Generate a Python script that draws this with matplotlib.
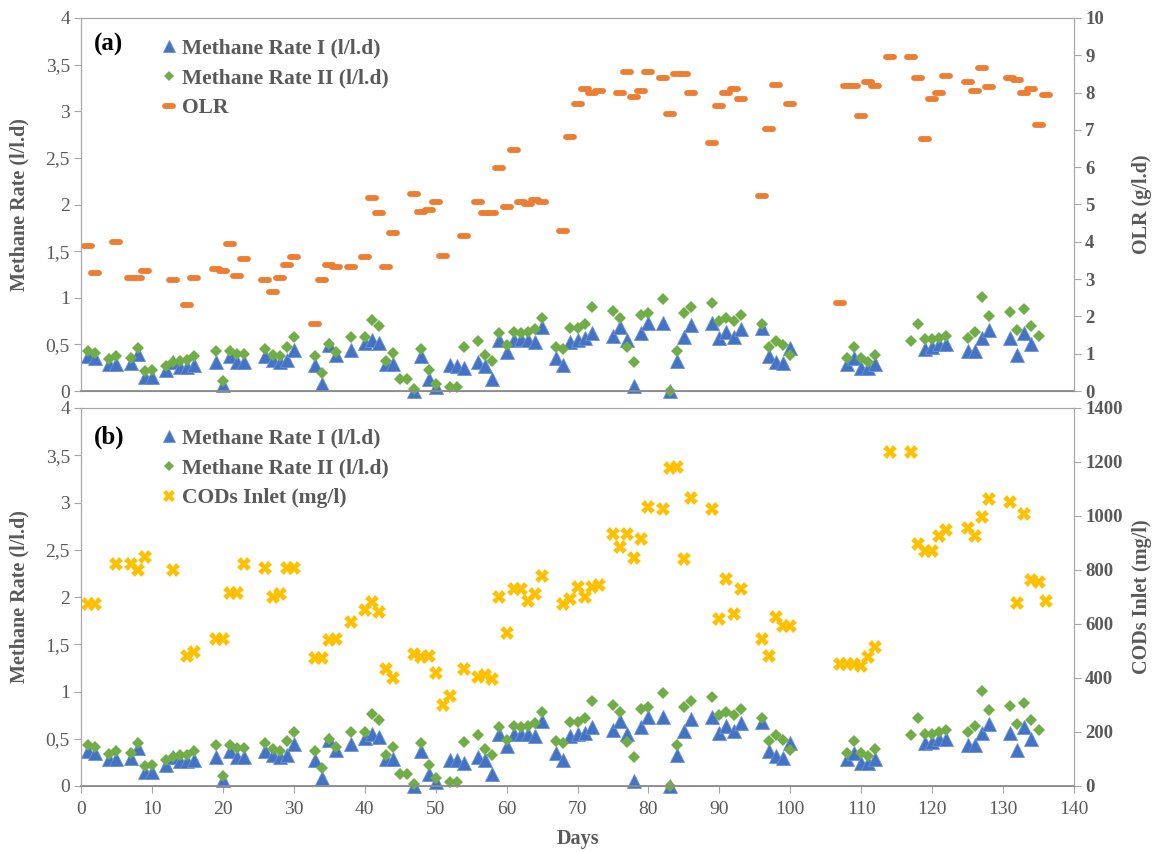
import matplotlib
matplotlib.use('Agg')
import numpy as np
import matplotlib.pyplot as plt
from matplotlib.markers import MarkerStyle

plt.rcParams['font.family'] = ['Liberation Serif', 'DejaVu Serif']

# Methane rate, reactor I (l/l.d)
m1_days = [1, 2, 4, 5, 7, 8, 9, 10, 12, 13, 14, 15, 16, 19, 20, 21, 22, 23, 26, 27, 28, 29, 30,
           33, 34, 35, 36, 38, 40, 41, 42, 43, 44, 47, 48, 49, 50, 52, 53, 54, 56, 57, 58, 59, 60,
           61, 62, 63, 64, 65, 67, 68, 69, 70, 71, 72, 75, 76, 77, 78, 79, 80, 82, 83, 84, 85, 86,
           89, 90, 91, 92, 93, 96, 97, 98, 99, 100, 108, 109, 110, 111, 112, 119, 120, 121, 122,
           125, 126, 127, 128, 131, 132, 133, 134]
m1 = [0.37, 0.35, 0.29, 0.29, 0.30, 0.40, 0.15, 0.15, 0.225, 0.31, 0.26, 0.26, 0.28, 0.31, 0.065,
      0.37, 0.31, 0.31, 0.37, 0.33, 0.31, 0.33, 0.44, 0.28, 0.08, 0.49, 0.385, 0.44, 0.51, 0.55,
      0.52, 0.29, 0.29, 0.0, 0.37, 0.125, 0.045, 0.28, 0.27, 0.245, 0.31, 0.27, 0.125, 0.55, 0.42,
      0.55, 0.555, 0.55, 0.53, 0.69, 0.35, 0.28, 0.53, 0.55, 0.565, 0.62, 0.59, 0.69, 0.55, 0.05,
      0.62, 0.73, 0.73, 0.0, 0.325, 0.58, 0.71, 0.73, 0.565, 0.635, 0.58, 0.67, 0.68, 0.375, 0.315,
      0.30, 0.46, 0.29, 0.35, 0.245, 0.245, 0.29, 0.45, 0.47, 0.50, 0.50, 0.43, 0.43, 0.565, 0.655,
      0.565, 0.385, 0.62, 0.50]

# Methane rate, reactor II (l/l.d)
m2_days = [1, 2, 4, 5, 7, 8, 9, 10, 12, 13, 14, 15, 16, 19, 20, 21, 22, 23, 26, 27, 28, 29, 30,
           33, 34, 35, 36, 38, 40, 41, 42, 43, 44, 45, 46, 47, 48, 49, 50, 52, 53, 54, 56, 57, 58,
           59, 60, 61, 62, 63, 64, 65, 67, 68, 69, 70, 71, 72, 75, 76, 77, 78, 79, 80, 82, 83, 84,
           85, 86, 89, 90, 91, 92, 93, 96, 97, 98, 99, 100, 108, 109, 110, 111, 112, 117, 118, 119,
           120, 121, 122, 125, 126, 127, 128, 131, 132, 133, 134, 135]
m2 = [0.43, 0.41, 0.34, 0.375, 0.35, 0.46, 0.21, 0.225, 0.27, 0.31, 0.325, 0.33, 0.375, 0.43, 0.11,
      0.43, 0.40, 0.40, 0.45, 0.39, 0.375, 0.475, 0.575, 0.375, 0.19, 0.50, 0.415, 0.575, 0.575,
      0.76, 0.70, 0.325, 0.41, 0.125, 0.125, 0.02, 0.45, 0.225, 0.08, 0.04, 0.04, 0.47, 0.535, 0.39,
      0.325, 0.62, 0.49, 0.635, 0.62, 0.635, 0.67, 0.78, 0.475, 0.45, 0.68, 0.68, 0.72, 0.90, 0.86,
      0.78, 0.47, 0.31, 0.815, 0.84, 0.985, 0.0, 0.43, 0.84, 0.90, 0.94, 0.755, 0.78, 0.755, 0.82,
      0.72, 0.475, 0.535, 0.49, 0.385, 0.35, 0.475, 0.35, 0.315, 0.39, 0.535, 0.72, 0.555, 0.555,
      0.57, 0.59, 0.57, 0.635, 1.005, 0.80, 0.845, 0.655, 0.88, 0.70, 0.59]

# Organic loading rate (g/l.d)
olr_days = [1, 2, 5, 7, 8, 9, 13, 15, 16, 19, 20, 21, 22, 23, 26, 27, 28, 29, 30, 33, 34, 35, 36,
            38, 40, 41, 42, 43, 44, 47, 48, 49, 50, 51, 54, 56, 57, 58, 59, 60, 61, 62, 63, 64, 65,
            68, 69, 70, 71, 72, 73, 76, 77, 78, 79, 80, 82, 83, 84, 85, 86, 89, 90, 91, 92, 93, 96,
            97, 98, 100, 107, 108, 109, 110, 111, 112, 114, 117, 118, 119, 120, 121, 122, 125, 126,
            127, 128, 131, 132, 133, 134, 135, 136]
olr = [3.89, 3.17, 3.99, 3.02, 3.02, 3.23, 2.97, 2.31, 3.02, 3.27, 3.23, 3.94, 3.07, 3.53, 2.97,
       2.66, 3.02, 3.38, 3.58, 1.79, 2.97, 3.38, 3.32, 3.32, 3.58, 5.17, 4.76, 3.32, 4.24, 5.27,
       4.81, 4.86, 5.07, 3.63, 4.15, 5.07, 4.76, 4.76, 5.99, 4.92, 6.45, 5.07, 5.01, 5.12, 5.07,
       4.30, 6.81, 7.69, 8.10, 7.99, 8.04, 7.99, 8.55, 7.89, 8.04, 8.55, 8.40, 7.43, 8.50, 8.50,
       7.99, 6.66, 7.63, 7.99, 8.10, 7.84, 5.23, 7.02, 8.20, 7.69, 2.35, 8.19, 8.19, 7.37, 8.29,
       8.19, 8.96, 8.96, 8.40, 6.76, 7.84, 7.99, 8.45, 8.29, 8.04, 8.65, 8.14, 8.40, 8.35, 7.99,
       8.09, 7.12, 7.94]

# Soluble COD at inlet (mg/l)
cod_days = [1, 2, 5, 7, 8, 9, 13, 15, 16, 19, 20, 21, 22, 23, 26, 27, 28, 29, 30, 33, 34, 35, 36,
            38, 40, 41, 42, 43, 44, 47, 48, 49, 50, 51, 52, 54, 56, 57, 58, 59, 60, 61, 62, 63, 64,
            65, 68, 69, 70, 71, 72, 73, 75, 76, 77, 78, 79, 80, 82, 83, 84, 85, 86, 89, 90, 91, 92,
            93, 96, 97, 98, 99, 100, 107, 108, 109, 110, 111, 112, 114, 117, 118, 119, 120, 121,
            122, 125, 126, 127, 128, 131, 132, 133, 134, 135, 136]
cod = [674, 674, 821, 821, 800, 849, 800, 481, 495, 544, 544, 714, 714, 821, 806, 701, 710, 806,
       806, 475, 475, 541, 546, 609, 652, 681, 646, 433, 399, 489, 477, 481, 417, 300, 333, 432,
       405, 410, 396, 701, 565, 730, 730, 686, 710, 779, 674, 693, 736, 701, 736, 744, 933, 886,
       933, 843, 914, 1032, 1026, 1177, 1183, 841, 1068, 1026, 617, 765, 637, 728, 546, 481, 625,
       593, 593, 452, 452, 452, 444, 477, 516, 1238, 1238, 896, 870, 870, 927, 948, 954, 927, 998,
       1062, 1053, 679, 1006, 763, 757, 685]

left_ticks = np.arange(0, 4.01, 0.5)
left_labels = ['0', '0,5', '1', '1,5', '2', '2,5', '3', '3,5', '4']

GREY = '#595959'
BLUE = '#4472C4'
GREEN = '#70AD47'
ORANGE = '#ED7D31'
YELLOW = '#FFC000'

fig = plt.figure(figsize=(11.67, 8.52), dpi=100)
ax_a = fig.add_axes([81 / 1167, 1 - 391 / 852, 993 / 1167, 373 / 852])
ax_b = fig.add_axes([81 / 1167, 1 - 786 / 852, 993 / 1167, 378 / 852])

dash = MarkerStyle('_', capstyle='round')


def style_panel(ax, ax2):
    ax.set_xlim(0, 140)
    ax.set_xticks(range(0, 141, 10))
    ax.set_ylim(0, 4)
    ax.set_yticks(left_ticks)
    ax.set_yticklabels(left_labels)
    ax.tick_params(axis='y', length=5, color='#A6A6A6', labelsize=14, labelcolor=GREY, pad=3)
    for side in ['left', 'right', 'top']:
        ax.spines[side].set_color('#A6A6A6')
        ax2.spines[side].set_color('#A6A6A6')
    ax.spines['bottom'].set_color('#8C8C8C')
    ax2.spines['bottom'].set_color('#8C8C8C')
    ax.spines['bottom'].set_linewidth(1.3)
    ax2.tick_params(axis='y', length=5, color='#A6A6A6', labelsize=13.5, labelcolor=GREY, pad=3)
    for lab in ax2.get_yticklabels():
        lab.set_fontweight('bold')
    ax.set_ylabel('Methane Rate (l/l.d)', fontsize=14.5, fontweight='bold', color=GREY)
    ax.yaxis.set_label_coords(-0.052, 0.5)
    ax2.yaxis.set_label_coords(1.058, 0.5)


def plot_methane(ax):
    h1, = ax.plot(m1_days, m1, ls='none', marker='^', ms=10, color=BLUE, mec='#6B93D6', mew=0.6,
                  clip_on=False, label='Methane Rate I (l/l.d)')
    h2, = ax.plot(m2_days, m2, ls='none', marker='D', ms=5.7, color=GREEN, mew=0,
                  clip_on=False, label='Methane Rate II (l/l.d)')
    return h1, h2


legend_style = dict(loc='upper left', frameon=False, borderpad=0, borderaxespad=0,
                    handlelength=0.8, handletextpad=0.2, labelspacing=0.45, markerscale=0.85,
                    prop={'weight': 'bold', 'size': 15.5}, labelcolor=GREY)

# (a) methane rates with OLR
h1, h2 = plot_methane(ax_a)
ax_a2 = ax_a.twinx()
h3, = ax_a2.plot(olr_days, olr, ls='none', marker=dash, ms=6, mew=4.2, color=ORANGE,
                 clip_on=False, label='OLR')
ax_a2.set_ylim(0, 10)
ax_a2.set_yticks(range(0, 11))
ax_a2.set_ylabel('OLR (g/l.d)', fontsize=14.5, fontweight='bold', color=GREY)
style_panel(ax_a, ax_a2)
ax_a.tick_params(axis='x', length=0, labelbottom=False)
ax_a.text(0.013, 0.928, '(a)', transform=ax_a.transAxes, fontsize=18, fontweight='bold',
          va='center', ha='left')
ax_a2.legend([h1, h2, h3], [h.get_label() for h in (h1, h2, h3)],
             bbox_to_anchor=(0.0796, 0.944), **legend_style)

# (b) methane rates with inlet COD
g1, g2 = plot_methane(ax_b)
ax_b2 = ax_b.twinx()
g3, = ax_b2.plot(cod_days, cod, ls='none', marker='X', ms=9.5, color=YELLOW, mew=0,
                 clip_on=False, label='CODs Inlet (mg/l)')
ax_b2.set_ylim(0, 1400)
ax_b2.set_yticks(range(0, 1401, 200))
ax_b2.set_ylabel('CODs Inlet (mg/l)', fontsize=14.5, fontweight='bold', color=GREY)
style_panel(ax_b, ax_b2)
ax_b.tick_params(axis='x', length=5, color='#A6A6A6', labelsize=14, labelcolor=GREY, pad=6)
ax_b.set_xlabel('Days', fontsize=14.5, fontweight='bold', color=GREY)
ax_b.xaxis.set_label_coords(0.5005, -0.114)
ax_b.text(0.013, 0.923, '(b)', transform=ax_b.transAxes, fontsize=18, fontweight='bold',
          va='center', ha='left')
ax_b2.legend([g1, g2, g3], [g.get_label() for g in (g1, g2, g3)],
             bbox_to_anchor=(0.0796, 0.945), **legend_style)

fig.savefig('out.png', dpi=100)
